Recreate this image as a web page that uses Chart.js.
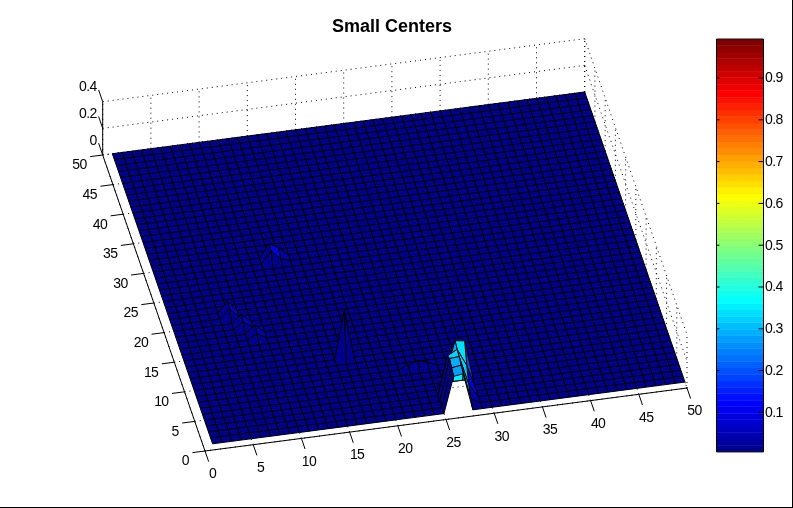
<!DOCTYPE html>
<html>
<head>
<meta charset="utf-8">
<script src="https://cdn.jsdelivr.net/npm/chart.js@4"></script>
<style>
html, body { margin: 0; padding: 0; background: #fff; overflow: hidden; }
#frame { position: absolute; left: 0; top: 0; width: 792px; height: 507px; border-right: 1px solid #000; border-bottom: 1px solid #000; }
</style>
</head>
<body>
<div id="frame"><canvas id="surfChart" width="792" height="507"></canvas></div>
<script>
const gridX = [1,2,3,4,5,6,7,8,9,10,11,12,13,14,15,16,17,18,19,20,21,22,23,24,25,26,27,28,29,30,31,32,33,34,35,36,37,38,39,40,41,42,43,44,45,46,47,48,49,50];
const gridY = gridX;

// the surface is flat (z = 0) apart from these nodes
const peakX = [26,26,26,26,26,  27,27,27,27,27,  28,28,28,28,  13,14,13,14,  7,7,8,8,9,9,  17,  23,24,25];
const peakY = [ 1, 2, 3, 4, 5,   1, 2, 3, 4, 5,   2, 3, 4, 5,  29,29,30,30,  22,21,20,19,18,17,  12,  9,9,9];
const peakZ = [.27,.29,.315,.29,.10,  .28,.30,.32,.33,.35,  .04,.10,.20,.34,  .09,.02,.10,.06,  .08,.07,.06,.05,.06,.04,  .36,  .03,.05,.03];

const xTicks = [0,5,10,15,20,25,30,35,40,45,50];
const yTicks = [0,5,10,15,20,25,30,35,40,45,50];
const zTicks = [0,0.2,0.4];
const zTickLabels = ['0','0.2','0.4'];
const colorbarTicks = [0.1,0.2,0.3,0.4,0.5,0.6,0.7,0.8,0.9];
const titleText = 'Small Centers';

// view of the 3d box on the flat page
const ORIGIN = [205, 451];
const EX = [9.64, -1.26];
const EY = [-2.046, -5.92];
const EZ = 133.25;
const TITLE_H = 37.6;

function proj(x, y, z) {
    return { x: ORIGIN[0] + EX[0] * x + EY[0] * y, y: ORIGIN[1] + EX[1] * x + EY[1] * y - EZ * z };
}

// colour bar placement
const CB_LEFT = 716.5, CB_RIGHT = 763.5, CB_MIN = 0.0057, CB_MAX = 0.993;
function cbY(v) { return 412.4 - (v - 0.1) * 418; }

function jet(v) {
    let i = Math.min(63, Math.max(0, Math.floor(v * 64)));
    let t = (i + 1) / 64;
    let r = Math.min(4 * t - 1.5, -4 * t + 4.5);
    let g = Math.min(4 * t - 0.5, -4 * t + 3.5);
    let b = Math.min(4 * t + 0.5, -4 * t + 2.5);
    let c = a => Math.round(255 * Math.min(1, Math.max(0, a)));
    return 'rgb(' + c(r) + ',' + c(g) + ',' + c(b) + ')';
}

let zGrid = gridY.map(() => gridX.map(() => 0));
peakX.forEach((px, i) => { zGrid[peakY[i] - 1][px - 1] = peakZ[i]; });

function lineSet(a, b, dashed) {
    return {
        data: [a, b], showLine: true, pointRadius: 0, borderColor: '#000', borderWidth: 1,
        borderDash: dashed ? [1, 4] : [], fill: false, clip: false
    };
}

// back to front, then reversed because Chart.js paints the first dataset last
let layers = [];

// dotted box grid
xTicks.forEach(t => {
    layers.push(lineSet(proj(t, 0, 0), proj(t, 50, 0), true));
    layers.push(lineSet(proj(t, 50, 0), proj(t, 50, 0.4), true));
});
yTicks.forEach(t => {
    layers.push(lineSet(proj(0, t, 0), proj(50, t, 0), true));
    layers.push(lineSet(proj(50, t, 0), proj(50, t, 0.4), true));
});
zTicks.forEach(t => {
    layers.push(lineSet(proj(0, 50, t), proj(50, 50, t), true));
    layers.push(lineSet(proj(50, 50, t), proj(50, 0, t), true));
});

// surface cells
for (let j = gridY.length - 2; j >= 0; j--) {
    for (let i = gridX.length - 2; i >= 0; i--) {
        let x0 = gridX[i], x1 = gridX[i + 1], y0 = gridY[j], y1 = gridY[j + 1];
        layers.push({
            data: [proj(x0, y0, zGrid[j][i]), proj(x1, y0, zGrid[j][i + 1]), proj(x1, y1, zGrid[j + 1][i + 1]), proj(x0, y1, zGrid[j + 1][i]), proj(x0, y0, zGrid[j][i])],
            showLine: true, pointRadius: 0, borderColor: '#000', borderWidth: 1,
            backgroundColor: jet(zGrid[j][i]), fill: 'shape', clip: false
        });
    }
}

// solid axes and their ticks
layers.push(lineSet(proj(0, 0, 0), proj(50, 0, 0)));
layers.push(lineSet(proj(0, 0, 0), proj(0, 50, 0)));
layers.push(lineSet(proj(0, 50, 0), proj(0, 50, 0.4)));
xTicks.forEach(t => layers.push(lineSet(proj(t, 0, 0), proj(t, -1.8, 0))));
yTicks.forEach(t => layers.push(lineSet(proj(0, t, 0), proj(-1.3, t, 0))));
zTicks.forEach(t => layers.push(lineSet(proj(0, 50, t), proj(0, 52, t))));

// colour bar
for (let i = 0; i < 64; i++) {
    let lo = CB_MIN + (CB_MAX - CB_MIN) * i / 64, hi = CB_MIN + (CB_MAX - CB_MIN) * (i + 1) / 64;
    let col = jet((i + 0.5) / 64);
    layers.push({
        data: [{x: CB_LEFT, y: cbY(lo)}, {x: CB_RIGHT, y: cbY(lo)}, {x: CB_RIGHT, y: cbY(hi)}, {x: CB_LEFT, y: cbY(hi)}, {x: CB_LEFT, y: cbY(lo)}],
        showLine: true, pointRadius: 0, borderColor: col, borderWidth: 0.5,
        backgroundColor: col, fill: 'shape', clip: false
    });
}
layers.push({
    data: [{x: CB_LEFT, y: cbY(CB_MIN)}, {x: CB_RIGHT, y: cbY(CB_MIN)}, {x: CB_RIGHT, y: cbY(CB_MAX)}, {x: CB_LEFT, y: cbY(CB_MAX)}, {x: CB_LEFT, y: cbY(CB_MIN)}],
    showLine: true, pointRadius: 0, borderColor: '#000', borderWidth: 1, fill: false, clip: false
});
colorbarTicks.forEach(t => {
    layers.push(lineSet({x: CB_LEFT, y: cbY(t)}, {x: CB_LEFT + 3, y: cbY(t)}));
    layers.push(lineSet({x: CB_RIGHT - 5, y: cbY(t)}, {x: CB_RIGHT, y: cbY(t)}));
});

const tickText = {
    id: 'tickText',
    afterDatasetsDraw(chart) {
        const ctx = chart.ctx, sx = chart.scales.x, sy = chart.scales.y;
        const put = (txt, px, py, align) => {
            ctx.textAlign = align;
            ctx.fillText(txt, sx.getPixelForValue(px), sy.getPixelForValue(py));
        };
        ctx.save();
        ctx.font = '14px "Liberation Sans", Arial, sans-serif';
        ctx.letterSpacing = '-0.6px';
        ctx.fillStyle = '#000';
        ctx.textBaseline = 'middle';
        xTicks.forEach(t => { let p = proj(t, 0, 0); put(String(t), p.x + 7.5, p.y + 23.5, 'center'); });
        yTicks.forEach(t => { let p = proj(0, t, 0); put(String(t), p.x - 16, p.y + 10.5, 'right'); });
        zTicks.forEach((t, i) => { let p = proj(0, 50, t); put(zTickLabels[i], p.x - 6, p.y - 14.2, 'right'); });
        colorbarTicks.forEach(t => put(String(t), CB_RIGHT + 1.5, cbY(t) + 0.5, 'left'));
        ctx.restore();
    }
};

new Chart(document.getElementById('surfChart'), {
    type: 'scatter',
    data: { datasets: layers.reverse() },
    plugins: [tickText],
    options: {
        responsive: false,
        animation: false,
        devicePixelRatio: 1,
        events: [],
        layout: { padding: { left: 0, top: 0, bottom: 0, right: 8 } },
        plugins: {
            legend: { display: false },
            tooltip: { enabled: false },
            title: {
                display: true,
                text: titleText,
                fullSize: false,
                color: '#000',
                font: { family: '"Liberation Sans", Arial, sans-serif', size: 18, weight: 'bold', lineHeight: 1.2 },
                padding: { top: 16, bottom: 0 }
            }
        },
        scales: {
            x: { type: 'linear', display: false, min: 0, max: 784 },
            y: { type: 'linear', display: false, reverse: true, min: TITLE_H, max: 507 }
        }
    }
});
</script>
</body>
</html>
